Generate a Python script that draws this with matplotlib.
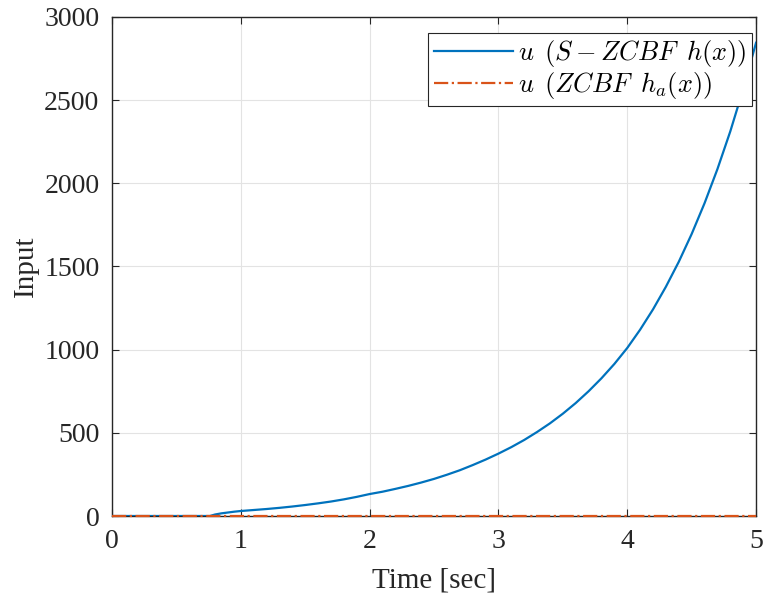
import matplotlib.pyplot as plt
import numpy as np

plt.rcParams['font.family'] = ['Liberation Serif', 'DejaVu Serif']
plt.rcParams['mathtext.fontset'] = 'cm'

# time samples [sec] and input values
t = [0.0, 0.25, 0.5, 0.76, 0.8, 0.85, 0.9, 0.95,
     1.0, 1.1, 1.2, 1.3, 1.4, 1.5, 1.6, 1.7, 1.8, 1.9,
     2.0, 2.1, 2.2, 2.3, 2.4, 2.5, 2.6, 2.7, 2.8, 2.9,
     3.0, 3.1, 3.2, 3.3, 3.4, 3.5, 3.6, 3.7, 3.8, 3.9,
     4.0, 4.1, 4.2, 4.3, 4.4, 4.5, 4.6, 4.7, 4.8, 4.9, 5.0]
u_szcbf = [0, 0, 0, 0, 9, 16, 21, 26,
           30, 36, 42, 49, 57, 66, 76, 87, 100, 115,
           132, 146, 163, 181, 201, 223, 248, 275, 306, 339,
           375, 414, 457, 505, 557, 615, 679, 750, 828, 914,
           1010, 1120, 1242, 1378, 1528, 1695, 1880, 2085, 2312, 2565, 2845]
t_a = [0.0, 5.0]
u_zcbf = [0, 0]

xticks = [0, 1, 2, 3, 4, 5]
yticks = [0, 500, 1000, 1500, 2000, 2500, 3000]

fig = plt.figure(figsize=(7.66, 6.0), dpi=100)
ax = fig.add_axes([0.1462, 0.14, 0.8408, 0.8317])

ax.plot(t, u_szcbf, color='#0072BD', lw=1.6,
        label=r'$u\ \,(S-ZCBF\ \,h(x))$', zorder=3)
ax.plot(t_a, u_zcbf, color='#D95319', lw=1.6, ls='-.', label=r'$u\ \,(ZCBF\ \,h_a(x))$',
        clip_on=False, zorder=4)

ax.set_xlim(0, 5)
ax.set_ylim(0, 3000)
ax.set_xticks(xticks)
ax.set_yticks(yticks)
ax.tick_params(direction='in', top=True, right=True, labelsize=20, colors='#262626',
               length=5, pad=9)
for s in ax.spines.values():
    s.set_color('#262626')
    s.set_linewidth(1.0)
ax.grid(True, color='#e3e3e3', lw=0.8)
ax.set_axisbelow(True)
ax.set_xlabel('Time [sec]', fontsize=21, color='#262626', labelpad=10)
ax.set_ylabel('Input', fontsize=21, color='#262626', labelpad=4)

leg = ax.legend(loc='upper right', bbox_to_anchor=(0.9938, 0.968), fontsize=19,
                fancybox=False, edgecolor='#262626', framealpha=1,
                handlelength=3.0, handletextpad=0.2, borderpad=0.2,
                labelspacing=0.02, borderaxespad=0)
leg.get_frame().set_linewidth(0.8)

fig.savefig('out.png', dpi=100)
